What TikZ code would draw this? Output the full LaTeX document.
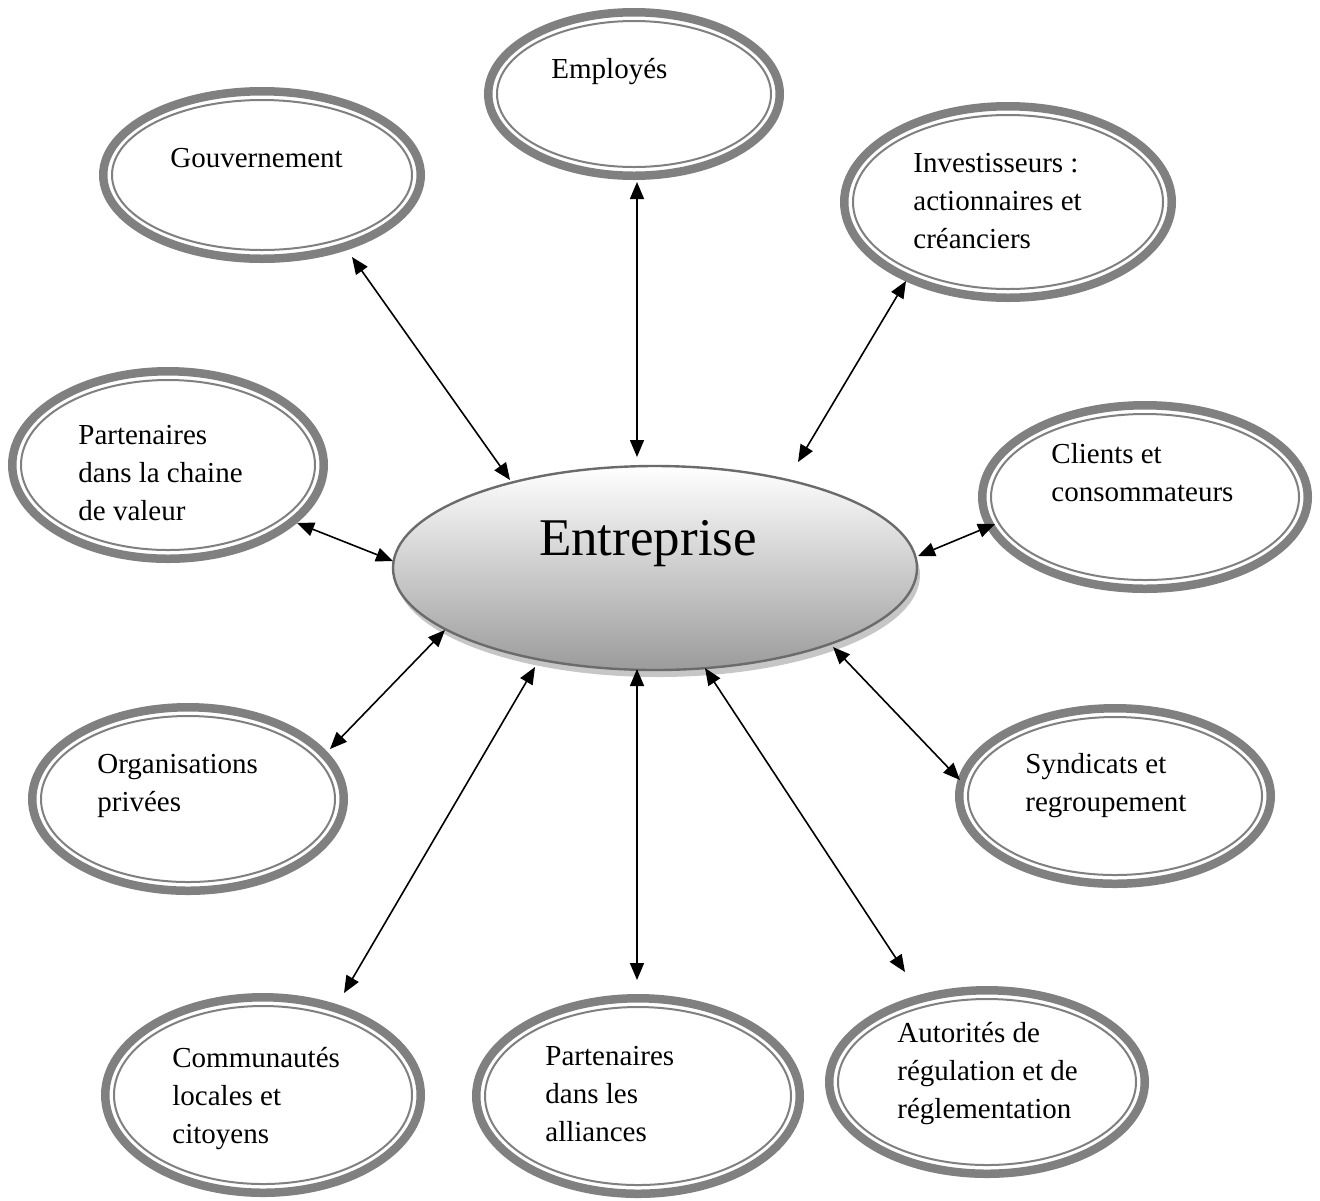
\documentclass[tikz,border=0pt]{standalone}
\usepackage{fontspec}
\setmainfont{Liberation Serif}
\usetikzlibrary{arrows.meta,shapes.geometric,shadows,calc}
\definecolor{ringgray}{HTML}{808080}
\definecolor{hubedge}{HTML}{6B6B6B}
\tikzset{
  ring/.style={ellipse, draw=ringgray, line width=4.25pt, inner sep=0pt, fill=white},
  innerring/.style={draw=ringgray, line width=1pt},
  % multi-line labels are placed by the baseline of their last line
  stakelabel/.style={anchor=base west, align=left, inner sep=0pt,
    font=\fontsize{14.5}{19}\selectfont},
  link/.style={{Triangle[length=8.5pt,width=7pt]}-{Triangle[length=8.5pt,width=7pt]},
    line width=0.8pt},
  hub/.style={ellipse, draw=hubedge, line width=1.2pt, inner sep=0pt,
    top color=white, bottom color=gray!78,
    drop shadow={shadow xshift=1.5pt, shadow yshift=-3.5pt, fill=gray!45, opacity=1}},
}
% double-ringed stakeholder ellipse: name, cx, cy, outer rx, outer ry (px)
\newcommand\stakeholder[5]{%
  \pgfmathsetmacro\rw{#4-4.25}\pgfmathsetmacro\rh{#5-4.25}%
  \pgfmathsetmacro\irx{#4-13}\pgfmathsetmacro\iry{#5-13}%
  \node[ring, minimum width=\rw pt, minimum height=\rh pt] (#1) at (#2,#3) {};
  \draw[innerring] (#1.center) ellipse [x radius=\irx, y radius=\iry];
}
\begin{document}
\begin{tikzpicture}[x=0.5pt, y=-0.5pt]
\useasboundingbox (0,0) rectangle (1320,1200);

% stakeholder rings
\stakeholder{gov}{262}{175}{163}{88}
\stakeholder{emp}{634}{94}{150}{86}
\stakeholder{inv}{1008}{202}{168}{100}
\stakeholder{pcv}{168}{465}{160}{98}
\stakeholder{cli}{1145}{497}{167}{96}
\stakeholder{org}{188}{799}{160}{96}
\stakeholder{syn}{1115}{796}{160}{92}
\stakeholder{com}{263}{1095}{162}{102}
\stakeholder{all}{638}{1096}{166}{102}
\stakeholder{aut}{987}{1082}{162}{96}

% central firm
\node[hub, minimum width=262pt, minimum height=102pt] (hub) at (655,568) {};
\node[font=\fontsize{26.5}{30}\selectfont, anchor=base, inner sep=0pt] (hubtext) at (648,555) {Entreprise};

% labels
\node[stakelabel] (gov-t) at (170,167) {Gouvernement};
\node[stakelabel] (emp-t) at (551,78) {Employés};
\node[stakelabel] (inv-t) at (913,248) {Investisseurs :\\actionnaires et\\créanciers};
\node[stakelabel] (pcv-t) at (78,520) {Partenaires\\dans la chaine\\de valeur};
\node[stakelabel] (cli-t) at (1051,501) {Clients et\\consommateurs};
\node[stakelabel] (org-t) at (97,811) {Organisations\\privées};
\node[stakelabel] (syn-t) at (1025,811) {Syndicats et\\regroupement};
\node[stakelabel] (com-t) at (172,1143) {Communautés\\locales et\\citoyens};
\node[stakelabel] (all-t) at (545,1141) {Partenaires\\dans les\\alliances};
\node[stakelabel] (aut-t) at (897,1118) {Autorités de\\régulation et de\\réglementation};

% two-way links
\draw[link] ($(hub.center)+(-145,-88)$) -- ($(gov.center)+(90,82)$);
\draw[link] ($(hub.center)+(-18,-111)$) -- ($(emp.center)+(3,88)$);
\draw[link] ($(hub.center)+(143,-106)$) -- ($(inv.center)+(-102,79)$);
\draw[link] ($(hub.center)+(-262,-7)$) -- ($(pcv.center)+(129,58)$);
\draw[link] ($(hub.center)+(263,-12)$) -- ($(cli.center)+(-150,27)$);
\draw[link] ($(hub.center)+(-210,62)$) -- ($(org.center)+(142,-50)$);
\draw[link] ($(hub.center)+(178,79)$) -- ($(syn.center)+(-155,-16)$);
\draw[link] ($(hub.center)+(-120,99)$) -- ($(com.center)+(81,-102)$);
\draw[link] ($(hub.center)+(-18,101)$) -- ($(all.center)+(-1,-116)$);
\draw[link] ($(hub.center)+(50,100)$) -- ($(aut.center)+(-82,-110)$);
\end{tikzpicture}
\end{document}
